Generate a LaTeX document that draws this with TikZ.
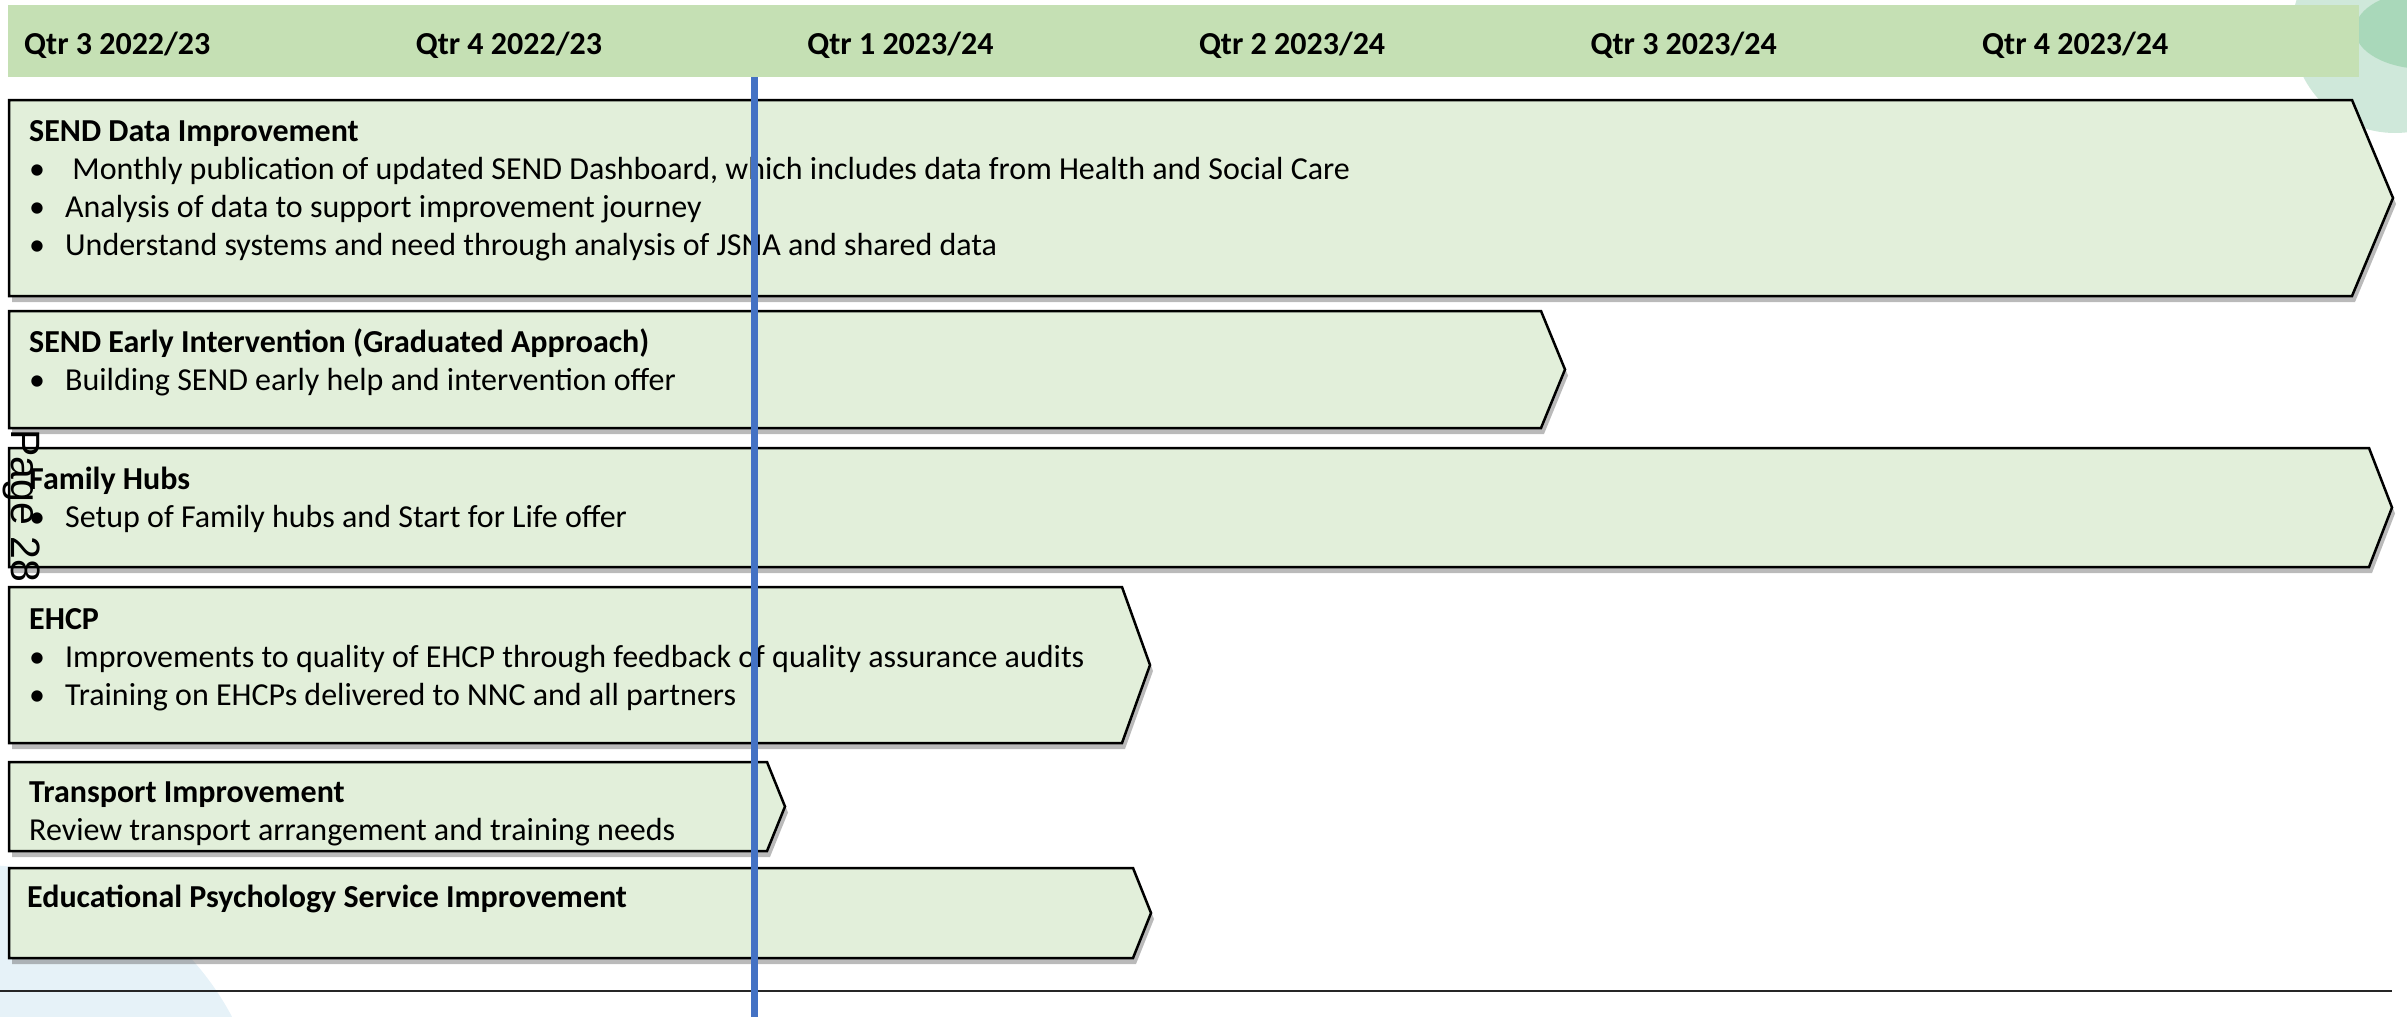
\documentclass[tikz,border=0pt]{standalone}
\usepackage{fontspec}
\setmainfont{Carlito}
\newfontfamily\pagefont{Liberation Sans}
\usetikzlibrary{shadows}

\definecolor{hdrgreen}{HTML}{C5E0B4}
\definecolor{barfill}{HTML}{E2EFDA}
\definecolor{todayblue}{HTML}{4472C4}
\definecolor{leafdark}{HTML}{A9D8BA}
\definecolor{leaflight}{HTML}{CFE8DA}
\definecolor{bubbleblue}{HTML}{E6F2F8}

\newcommand{\wsbullet}{\makebox[36pt][l]{\textbullet}}

\begin{document}
\begin{tikzpicture}[x=1pt, y=-1pt,
  font=\fontsize{32}{38}\selectfont,
  % Define the style of the workstream bars
  bar/.style={fill=barfill, draw=black, line width=2.5pt,
    drop shadow={shadow xshift=3pt, shadow yshift=-6pt, fill=black!60, opacity=0.45}},
  % Define the style of the quarter labels
  qtrlabel/.style={anchor=base west, inner sep=0pt, font=\fontsize{32}{38}\selectfont\bfseries},
  % Define the style of the text in the bars (placed at the baseline of the last line)
  bartext/.style={anchor=base west, inner sep=0pt, align=left},
  % Define the style of the current date line
  todayline/.style={draw=todayblue, line width=7pt},
  % Define the style of the footer rule
  footrule/.style={draw=black!85, line width=2pt}
  ]

  \useasboundingbox (0,0) rectangle (2407,1017);

  % Background bubbles
  \fill[bubbleblue] (-20,1150) circle[radius=285pt];
  \fill[leaflight] (2395,30) circle[radius=103pt];
  \fill[leafdark] (2425,30) ellipse[x radius=70pt, y radius=39pt];

  % Header band with the quarters
  \fill[hdrgreen] (8,5) rectangle (2359,77);
  \foreach \i/\q/\fy in {0/3/{2022/23}, 1/4/{2022/23}, 2/1/{2023/24}, 3/2/{2023/24}, 4/3/{2023/24}, 5/4/{2023/24}} {
    \node[qtrlabel] (qtr\i) at ({24+391.6*\i},54) {Qtr \q\ \fy};
  }

  % Workstream bars
  \foreach \top/\bot/\edge/\tip in {100/296/2352/2393, 311/428/1541/1565, 448/567/2369/2392,
      587/743/1122/1150, 762/851/767/785, 868/958/1133/1151} {
    \draw[bar] (9,\top) -- (\edge,\top) -- (\tip,{(\top+\bot)/2}) -- (\edge,\bot) -- (9,\bot) -- cycle;
  }

  % Text of the bars
  \node[bartext] (data) at (29,255) {\textbf{SEND Data Improvement}\\
    \wsbullet\ Monthly publication of updated SEND Dashboard, which includes data from Health and Social Care\\
    \wsbullet Analysis of data to support improvement journey\\
    \wsbullet Understand systems and need through analysis of JSNA and shared data};
  \node[bartext] (early) at (29,390) {\textbf{SEND Early Intervention (Graduated Approach)}\\
    \wsbullet Building SEND early help and intervention offer};
  \node[bartext] (hubs) at (29,527) {\textbf{Family Hubs}\\
    \wsbullet Setup of Family hubs and Start for Life offer};
  \node[bartext] (ehcp) at (29,705) {\textbf{EHCP}\\
    \wsbullet Improvements to quality of EHCP through feedback of quality assurance audits\\
    \wsbullet Training on EHCPs delivered to NNC and all partners};
  \node[bartext] (transport) at (29,840) {\textbf{Transport Improvement}\\
    Review transport arrangement and training needs};
  \node[bartext] (psych) at (27,907) {\textbf{Educational Psychology Service Improvement}};

  % Footer rule and current date line
  \coordinate (rule west) at (0,991);
  \coordinate (rule east) at (2392,991);
  \draw[footrule] (rule west) -- (rule east);
  \coordinate (now top) at (754,77);
  \coordinate (now bottom) at (754,1017);
  \draw[todayline] (now top) -- (now bottom);

  % Page number
  \node[rotate=-90, anchor=base, inner sep=0pt, font=\pagefont\fontsize{41}{48}\selectfont] (pagenum) at (12,506) {Page 28};
\end{tikzpicture}
\end{document}
